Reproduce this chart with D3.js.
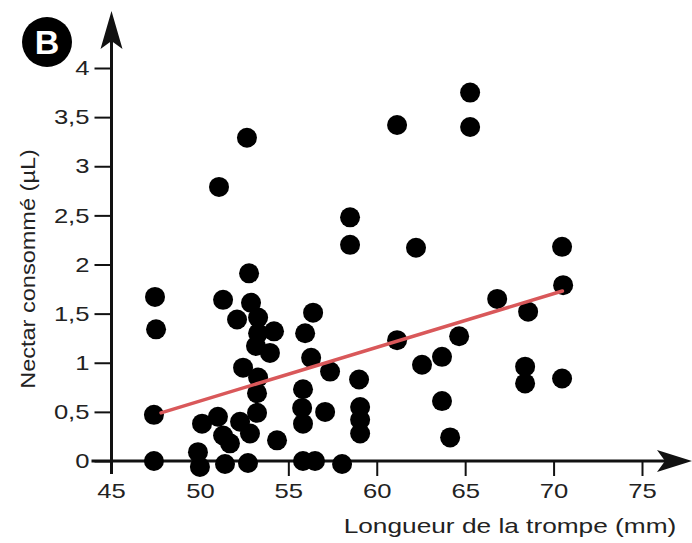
<!DOCTYPE html>
<html>
<head>
<meta charset="utf-8">
<script src="https://cdn.jsdelivr.net/npm/d3@7"></script>
<style>
  body { margin: 0; background: #fff; }
  svg text { font-family: "Liberation Sans", Arial, Helvetica, sans-serif; }
</style>
</head>
<body>
<svg id="chart" width="692" height="543"></svg>
<script>
// Proboscis length (mm) and nectar consumed (µL), one entry per individual
const proboscisLength = [
  47.46, 47.52, 47.40, 47.40,
  52.78, 51.31, 52.89, 52.10, 53.29, 53.29, 54.19, 53.17, 53.96, 52.44,
  53.29, 53.23, 53.23, 51.02, 50.12, 52.27, 52.83, 51.31, 51.70, 54.36,
  49.89, 50.00, 51.42, 52.72,
  56.40, 55.95, 56.29, 57.36, 55.83, 55.78, 55.83, 57.08,
  59.00, 59.06, 59.06, 59.06, 55.83, 56.51, 58.04,
  70.54, 66.81, 68.56, 61.15, 64.66, 62.56, 63.69, 68.39, 68.39, 70.48,
  63.69, 64.15, 65.28, 61.15, 65.28, 58.49, 58.49, 62.22, 70.48,
  52.66, 51.08
];
const nectarVolume = [
  1.67, 1.34, 0.47, 0.00,
  1.91, 1.64, 1.61, 1.44, 1.46, 1.30, 1.32, 1.17, 1.10, 0.95,
  0.85, 0.69, 0.49, 0.45, 0.38, 0.40, 0.28, 0.26, 0.18, 0.21,
  0.09, -0.06, -0.03, -0.02,
  1.51, 1.30, 1.05, 0.91, 0.73, 0.54, 0.38, 0.50,
  0.83, 0.55, 0.42, 0.28, 0.00, 0.00, -0.03,
  1.79, 1.65, 1.52, 1.23, 1.27, 0.98, 1.06, 0.96, 0.79, 0.84,
  0.61, 0.24, 3.75, 3.42, 3.40, 2.48, 2.20, 2.17, 2.18,
  3.29, 2.79
];

// Linear trend: end points of the fitted segment
const fitLength = [47.8, 70.5];
const fitNectar = [0.49, 1.73];

const xTicks = [50, 55, 60, 65, 70, 75];
const yTicks = [0, 0.5, 1, 1.5, 2, 2.5, 3, 3.5, 4];

const xTitle = "Longueur de la trompe (mm)";
const yTitle = "Nectar consommé (µL)";
const panelLetter = "B";

const svg = d3.select("#chart");

const x = d3.scaleLinear().domain([45, 75]).range([111.5, 642]);
const y = d3.scaleLinear().domain([0, 4]).range([461, 68]);

const ink = "#111";
const labelInk = "#222";
const fmt = d => String(d).replace(".", ",");
const fontSize = 21;

// Widen lettering along its baseline by the given factor
function widenText(sel, factor) {
  sel.each(function () {
    const len = this.getComputedTextLength();
    d3.select(this).attr("textLength", len * factor).attr("lengthAdjust", "spacingAndGlyphs");
  });
}

// Axes
const xAxis = svg.append("g")
  .attr("transform", `translate(0,${y(0)})`)
  .call(d3.axisBottom(x).tickValues(xTicks).tickSize(15).tickPadding(7).tickFormat(fmt));
const yAxis = svg.append("g")
  .attr("transform", `translate(${x(45)},0)`)
  .call(d3.axisLeft(y).tickValues(yTicks).tickSize(17).tickPadding(5).tickFormat(fmt));

[xAxis, yAxis].forEach(g => {
  g.select(".domain").remove();
  g.selectAll(".tick line").attr("stroke", ink).attr("stroke-width", 2);
  g.selectAll(".tick text")
    .attr("fill", labelInk)
    .attr("font-size", fontSize)
    .attr("font-family", "'Liberation Sans', Arial, sans-serif");
});
// the 45 label sits under the vertical axis
xAxis.append("g").attr("class", "tick").attr("transform", `translate(${x(45)},0)`)
  .append("text").attr("y", 22).attr("dy", "0.71em").attr("text-anchor", "middle")
  .attr("fill", labelInk).attr("font-size", fontSize).text("45");

widenText(svg.selectAll(".tick text"), 1.22);

// Axis lines with arrowheads
const x0 = x(45), y0 = y(0);
svg.append("line").attr("x1", x0 - 20).attr("x2", 668).attr("y1", y0).attr("y2", y0)
  .attr("stroke", ink).attr("stroke-width", 3);
svg.append("line").attr("x1", x0).attr("x2", x0).attr("y1", y0 + 13).attr("y2", 40)
  .attr("stroke", ink).attr("stroke-width", 3);
svg.append("path")
  .attr("d", `M692,${y0} L657,${y0 - 11} L665,${y0} L657,${y0 + 11} Z`)
  .attr("fill", ink);
svg.append("path")
  .attr("d", `M${x0},11 L${x0 - 11},49 L${x0},41 L${x0 + 11},49 Z`)
  .attr("fill", ink);

// Scatter points
svg.append("g").selectAll("circle")
  .data(d3.zip(proboscisLength, nectarVolume))
  .join("circle")
  .attr("cx", d => x(d[0]))
  .attr("cy", d => y(d[1]))
  .attr("r", 10)
  .attr("fill", "#000");

// Trend line
svg.append("line")
  .attr("x1", x(fitLength[0])).attr("y1", y(fitNectar[0]))
  .attr("x2", x(fitLength[1])).attr("y2", y(fitNectar[1]))
  .attr("stroke", "#d9585a").attr("stroke-width", 3.5).attr("stroke-linecap", "round");

// Axis titles
const xt = svg.append("text")
  .attr("x", 510).attr("y", 533).attr("text-anchor", "middle")
  .attr("font-size", fontSize).attr("fill", labelInk).text(xTitle);
widenText(xt, 1.25);
const yt = svg.append("text")
  .attr("transform", "translate(35,269) rotate(-90)")
  .attr("text-anchor", "middle")
  .attr("font-size", fontSize).attr("fill", labelInk).text(yTitle);
widenText(yt, 1.12);

// Panel badge
svg.append("circle").attr("cx", 47).attr("cy", 42).attr("r", 25).attr("fill", "#000");
svg.append("text").attr("x", 47).attr("y", 42).attr("dy", "0.36em")
  .attr("text-anchor", "middle").attr("font-size", 34).attr("font-weight", "bold")
  .attr("fill", "#fff").text(panelLetter);
</script>
</body>
</html>
